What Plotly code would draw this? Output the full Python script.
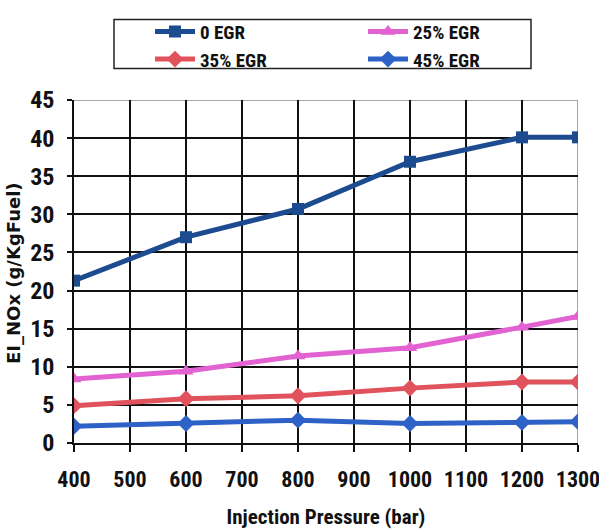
import plotly.graph_objects as go

# Injection pressure sweep (bar)
pressure = [400, 600, 800, 1000, 1200, 1300]

# EI_NOx (g/kg fuel) for each EGR rate
nox_0egr = [21.3, 27.0, 30.7, 36.9, 40.1, 40.1]
nox_25egr = [8.4, 9.4, 11.4, 12.5, 15.2, 16.6]
nox_35egr = [4.9, 5.8, 6.2, 7.2, 8.0, 8.0]
nox_45egr = [2.2, 2.55, 3.0, 2.55, 2.7, 2.8]

series_names = ["0 EGR", "25% EGR", "35% EGR", "45% EGR"]
x_ticks = [400, 500, 600, 700, 800, 900, 1000, 1100, 1200, 1300]
y_ticks = [0, 5, 10, 15, 20, 25, 30, 35, 40, 45]
y_title = "EI_NOx (g/KgFuel)"

NARROW = "Roboto Condensed, DejaVu Sans Condensed, sans-serif"
WIDE = "DejaVu Sans, Liberation Sans, sans-serif"
TXT = "#111111"

# plot-area placement in pixels
L, R, T, B = 74, 578, 94, 443
W, H = R - L, B - T

styles = [
    dict(color="#1d4b8f", symbol="square", size=12),
    dict(color="#e262d2", symbol="triangle-up", size=13),
    dict(color="#e0525c", symbol="diamond", size=13),
    dict(color="#2f62c6", symbol="diamond", size=13),
]

fig = go.Figure()
for name, vals, st in zip(series_names, [nox_0egr, nox_25egr, nox_35egr, nox_45egr], styles):
    fig.add_trace(go.Scatter(
        x=pressure, y=vals, name=name, mode="lines+markers",
        line=dict(color=st["color"], width=5),
        marker=dict(color=st["color"], symbol=st["symbol"], size=st["size"]),
    ))

# Plot-area frame: light top/right edges
fig.add_shape(type="line", xref="x", yref="y", x0=400, x1=1300, y0=45, y1=45,
              line=dict(color="#8a8a8a", width=1.5), layer="below")
fig.add_shape(type="line", xref="x", yref="y", x0=1300, x1=1300, y0=0, y1=45,
              line=dict(color="#8a8a8a", width=1.5), layer="below")
# Legend frame
fig.add_shape(type="rect", xref="paper", yref="paper",
              x0=(114 - L) / W, x1=(531 - L) / W,
              y0=(B - 62) / H, y1=(B - 12) / H,
              line=dict(color="#222222", width=1.5), fillcolor="rgba(0,0,0,0)")

# Vertical axis title, set beside the tick labels
fig.add_annotation(
    text=y_title, textangle=-90, showarrow=False,
    xref="paper", yref="paper", x=(14 - L) / W, y=(B - 270) / H,
    xanchor="center", yanchor="middle",
    font=dict(family=WIDE, size=18, color=TXT, weight="bold"),
)

fig.update_layout(
    width=599, height=529,
    margin=dict(l=L, r=599 - R, t=T, b=529 - B),
    paper_bgcolor="white", plot_bgcolor="white",
    font=dict(family=NARROW, color=TXT),
    showlegend=True,
    legend=dict(
        orientation="h", x=(150 - L) / W, y=(B - 5) / H,
        xanchor="left", yanchor="top",
        entrywidth=158, font=dict(family=NARROW, size=19, color=TXT, weight="bold"),
        bgcolor="rgba(0,0,0,0)", tracegroupgap=0, itemwidth=40,
    ),
    xaxis=dict(
        range=[400, 1300], tickvals=x_ticks, ticktext=[str(v) for v in x_ticks],
        automargin=False, tickangle=0, ticklabeloverflow="allow",
        showgrid=True, gridcolor="#111111", gridwidth=1.5,
        showline=True, linecolor="#111111", linewidth=1.5,
        ticks="outside", ticklen=7, tickcolor="#111111", tickwidth=1.5,
        tickfont=dict(family=NARROW, size=22, color=TXT, weight="bold"),
        ticklabelstandoff=9, zeroline=False,
        title=dict(text="Injection Pressure (bar)", standoff=28,
                   font=dict(family=NARROW, size=21, color=TXT, weight="bold")),
    ),
    yaxis=dict(
        range=[0, 45], tickvals=y_ticks, ticktext=[str(v) for v in y_ticks],
        automargin=False,
        showgrid=True, gridcolor="#111111", gridwidth=1.5,
        showline=True, linecolor="#111111", linewidth=1.5,
        ticks="outside", ticklen=5, tickcolor="#111111", tickwidth=1.5,
        tickfont=dict(family=NARROW, size=24, color=TXT, weight="bold"),
        ticklabelstandoff=8, zeroline=False,
    ),
)

fig.write_html("out.html")
